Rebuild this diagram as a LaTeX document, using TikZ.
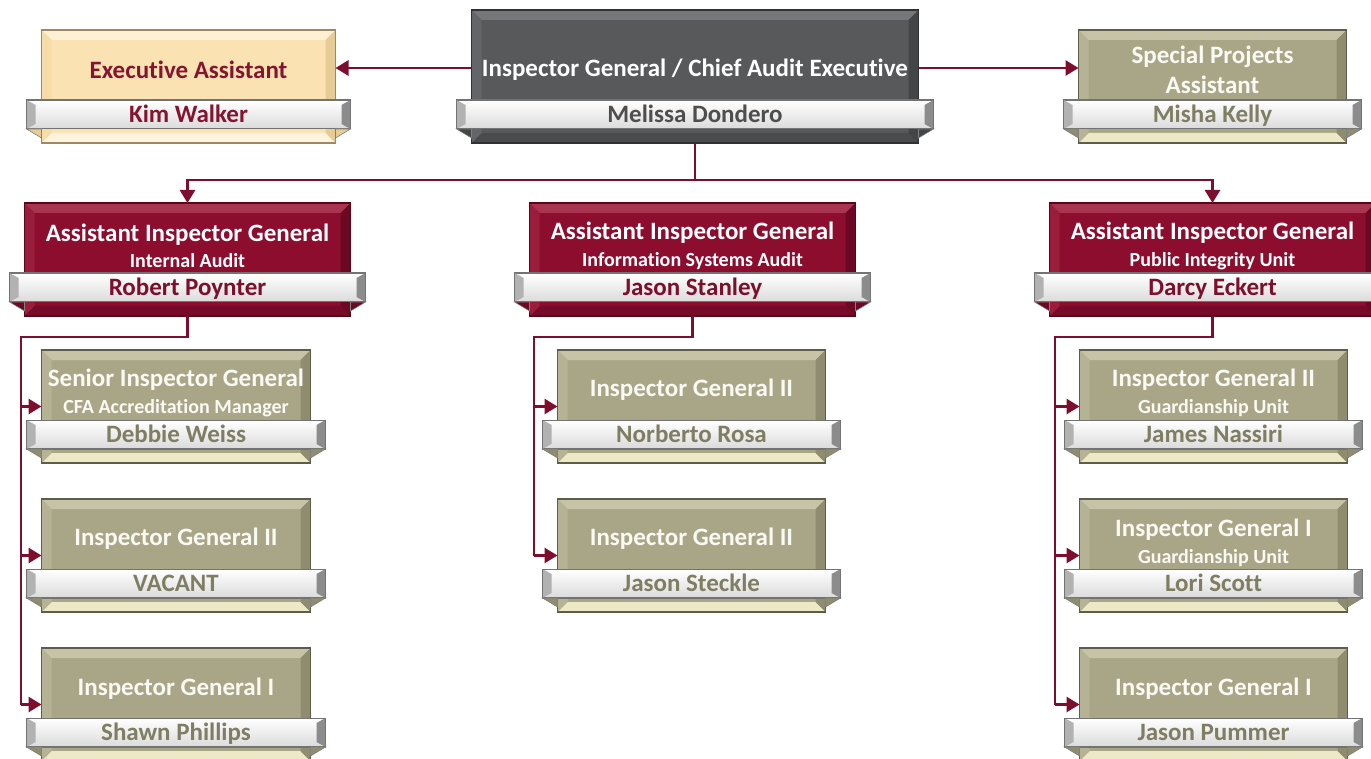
\documentclass[tikz,border=0pt]{standalone}
\usepackage{fontspec}
\setmainfont{Carlito}[Ligatures=NoCommon]
\usetikzlibrary{arrows.meta,calc}

\definecolor{connc}{HTML}{7E0E2D}
% maroon palette
\definecolor{mrbase}{HTML}{8C0D2E}\definecolor{mrlight}{HTML}{A8344F}\definecolor{mrside}{HTML}{9A1D3C}
\definecolor{mrdark}{HTML}{6C0823}\definecolor{mrbottom}{HTML}{760A28}\definecolor{mredge}{HTML}{5A0619}
\definecolor{mrtitle}{HTML}{FFFFFF}\definecolor{mrname}{HTML}{7E0F2C}
% khaki palette
\definecolor{khbase}{HTML}{A9A688}\definecolor{khlight}{HTML}{C6C3A6}\definecolor{khside}{HTML}{B5B295}
\definecolor{khdark}{HTML}{8F8C70}\definecolor{khbottom}{HTML}{EDE9C6}\definecolor{khedge}{HTML}{5F5D4A}
\definecolor{khtitle}{HTML}{FAFAF4}\definecolor{khname}{HTML}{7F7D62}
% beige palette
\definecolor{eabase}{HTML}{FBE2B2}\definecolor{ealight}{HTML}{FDF0D4}\definecolor{easide}{HTML}{F6DCA8}
\definecolor{eadark}{HTML}{E8CC96}\definecolor{eabottom}{HTML}{FEF3DC}\definecolor{eaedge}{HTML}{9E8A62}
\definecolor{eatitle}{HTML}{841430}\definecolor{eaname}{HTML}{841430}
% gray palette
\definecolor{igbase}{HTML}{58595B}\definecolor{iglight}{HTML}{76777A}\definecolor{igside}{HTML}{646568}
\definecolor{igdark}{HTML}{444547}\definecolor{igbottom}{HTML}{4A4B4D}\definecolor{igedge}{HTML}{303133}
\definecolor{igtitle}{HTML}{FFFFFF}\definecolor{igname}{HTML}{4E4E4E}

\tikzset{
  boxbase/.style={rectangle, inner sep=0pt, line width=1pt},
  titletext/.style={font=\fontsize{25}{26.5}\selectfont\bfseries, align=center, inner sep=0pt},
  nametext/.style={font=\fontsize{25}{28}\selectfont\bfseries, inner sep=0pt, text height=16pt, text depth=0pt},
  namebar/.style={rectangle, inner sep=0pt, minimum height=28pt, top color=white, bottom color=black!14, draw=black!55, line width=1pt},
  conn/.style={draw=connc, line width=2.8pt, -{Triangle[length=13pt,width=15pt]}},
  connline/.style={draw=connc, line width=2.8pt},
}
\newcommand\subt[1]{{\fontsize{20}{22}\selectfont #1}}

% #1 name, #2 cx, #3 top, #4 width, #5 height, #6 palette, #7 title y, #8 title, #9 person
\newcommand\orgbox[9]{%
  \node[boxbase, fill=#6base, minimum width=#4pt, minimum height=#5pt, anchor=north] (#1) at (#2,#3) {};
  \fill[#6light] (#1.north west) -- (#1.north east) -- ($(#1.north east)+(-10,10)$) -- ($(#1.north west)+(10,10)$) -- cycle;
  \fill[#6bottom] (#1.south west) -- (#1.south east) -- ($(#1.south east)+(-10,-10)$) -- ($(#1.south west)+(10,-10)$) -- cycle;
  \fill[#6side] (#1.north west) -- ($(#1.north west)+(10,10)$) -- ($(#1.south west)+(10,-10)$) -- (#1.south west) -- cycle;
  \fill[#6dark] (#1.north east) -- ($(#1.north east)+(-10,10)$) -- ($(#1.south east)+(-10,-10)$) -- (#1.south east) -- cycle;
  \draw[#6edge, line width=1.3pt] (#1.north west) rectangle (#1.south east);
  \node[titletext, text=#6title] (#1-t) at (#2,#7) {#8};
  \node[namebar, minimum width=#4pt+30pt] (#1-n) at ($(#1.south)+(0,-28.5)$) {};
  \fill[black!30] (#1-n.north west) -- ($(#1-n.north west)+(9,5)$) -- ($(#1-n.south west)+(9,-5)$) -- (#1-n.south west) -- cycle;
  \fill[black!45] (#1-n.north east) -- ($(#1-n.north east)+(-9,5)$) -- ($(#1-n.south east)+(-9,-5)$) -- (#1-n.south east) -- cycle;
  \draw[black!55, line width=1pt] (#1-n.north west) rectangle (#1-n.south east);
  \fill[#6dark, draw=black!50, line width=0.6pt] (#1-n.south west) -- ($(#1-n.south west)+(15,9)$) -- ($(#1-n.south west)+(15,0)$) -- cycle;
  \fill[#6dark, draw=black!50, line width=0.6pt] (#1-n.south east) -- ($(#1-n.south east)+(-15,9)$) -- ($(#1-n.south east)+(-15,0)$) -- cycle;
  \node[nametext, text=#6name] (#1-p) at (#1-n) {#9};
}

\begin{document}
\begin{tikzpicture}[x=1pt, y=-1pt]
\useasboundingbox (0,0) rectangle (1371,759);
\fill[white] (0,0) rectangle (1371,759);

% top row
\orgbox{ea}{188.5}{30}{293}{112}{ea}{70}{Executive Assistant}{Kim Walker}
\orgbox{ig}{695}{10}{446}{132}{ig}{70}{Inspector General / Chief Audit Executive}{Melissa Dondero}
\orgbox{sp}{1212.5}{30}{267}{112}{kh}{70}{Special Projects\\[4pt]Assistant}{Misha Kelly}

% assistant inspectors general
\orgbox{aiga}{187.5}{203}{325}{112}{mr}{246}{Assistant Inspector General\\\subt{Internal Audit}}{Robert Poynter}
\orgbox{aigb}{692.5}{203}{325}{112}{mr}{246}{Assistant Inspector General\\\subt{Information Systems Audit}}{Jason Stanley}
\orgbox{aigc}{1212.5}{203}{325}{112}{mr}{246}{Assistant Inspector General\\\subt{Public Integrity Unit}}{Darcy Eckert}

% left column
\orgbox{la}{176}{350}{268}{112}{kh}{393}{Senior Inspector General\\\subt{CFA Accreditation Manager}}{Debbie Weiss}
\orgbox{lb}{176}{499}{268}{112}{kh}{539}{Inspector General II}{VACANT}
\orgbox{lc}{176}{648}{268}{112}{kh}{689}{Inspector General I}{Shawn Phillips}
% middle column
\orgbox{ma}{691.5}{350}{267}{112}{kh}{390}{Inspector General II}{Norberto Rosa}
\orgbox{mb}{691.5}{499}{267}{112}{kh}{539}{Inspector General II}{Jason Steckle}
% right column
\orgbox{ra}{1213.5}{350}{267}{112}{kh}{393}{Inspector General II\\\subt{Guardianship Unit}}{James Nassiri}
\orgbox{rb}{1213.5}{499}{267}{112}{kh}{543}{Inspector General I\\\subt{Guardianship Unit}}{Lori Scott}
\orgbox{rc}{1213.5}{648}{267}{112}{kh}{689}{Inspector General I}{Jason Pummer}

% connectors, top
\draw[conn] (ig.west |- 0,68) -- (ea.east |- 0,68);
\draw[conn] (ig.east |- 0,68) -- (sp.west |- 0,68);
\coordinate (hub) at (695,180);
\draw[connline] (ig.south) -- (hub);
\draw[conn] (hub) -| (aiga.north);
\draw[conn] (hub) -| (aigc.north);

% left branch
\coordinate (bl) at (21,337);
\draw[connline] (aiga.south) |- (bl) -- (bl |- lc.west);
\draw[conn] (bl |- la.west) -- (la.west);
\draw[conn] (bl |- lb.west) -- (lb.west);
\draw[conn] (bl |- lc.west) -- (lc.west);
% middle branch
\coordinate (bm) at (534,337);
\draw[connline] (aigb.south) |- (bm) -- (bm |- mb.west);
\draw[conn] (bm |- ma.west) -- (ma.west);
\draw[conn] (bm |- mb.west) -- (mb.west);
% right branch
\coordinate (br) at (1055,337);
\draw[connline] (aigc.south) |- (br) -- (br |- rc.west);
\draw[conn] (br |- ra.west) -- (ra.west);
\draw[conn] (br |- rb.west) -- (rb.west);
\draw[conn] (br |- rc.west) -- (rc.west);
\end{tikzpicture}
\end{document}
